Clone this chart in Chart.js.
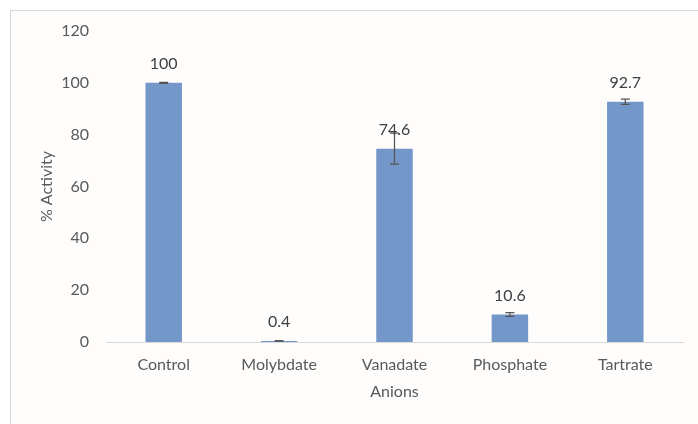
<!DOCTYPE html>
<html>
<head>
<meta charset="utf-8">
<script src="https://cdn.jsdelivr.net/npm/chart.js@4.4.0/dist/chart.umd.min.js"></script>
<style>
  body { margin: 0; background: #ffffff; }
  #frame {
    position: absolute; left: 10px; top: 10px; width: 700px; height: 430px;
    border-left: 1px solid #dcd8d5; border-top: 1px solid #dcd8d5;
    background: #fefdfc;
  }
  #wrap { position: absolute; left: 0; top: 0; width: 698px; height: 424px; }
</style>
</head>
<body>
<div id="frame"></div>
<div id="wrap"><canvas id="myChart" width="698" height="424"></canvas></div>
<script>
const categories = ['Control', 'Molybdate', 'Vanadate', 'Phosphate', 'Tartrate'];
const activity = [100, 0.4, 74.6, 10.6, 92.7];
const errors = [0.2, 0.1, 6.0, 0.7, 1.0];
const yTicks = [0, 20, 40, 60, 80, 100, 120];

const fontFamily = 'Lato, "Open Sans", sans-serif';

// error bars + value labels, drawn through the chart's own scales
const errorBarPlugin = {
    id: 'errorBars',
    afterDatasetsDraw(chart) {
        const ctx = chart.ctx;
        const x = chart.scales.x;
        const y = chart.scales.y;
        ctx.save();
        ctx.strokeStyle = '#555555';
        ctx.lineWidth = 1.25;
        for (let i = 0; i < activity.length; i++) {
            const cx = x.getPixelForValue(i);
            const top = y.getPixelForValue(activity[i] + errors[i]);
            const bot = y.getPixelForValue(activity[i] - errors[i]);
            ctx.beginPath();
            ctx.moveTo(cx, top);
            ctx.lineTo(cx, bot);
            ctx.moveTo(cx - 4.5, top);
            ctx.lineTo(cx + 4.5, top);
            ctx.moveTo(cx - 4.5, bot);
            ctx.lineTo(cx + 4.5, bot);
            ctx.stroke();
        }
        ctx.fillStyle = '#404040';
        ctx.font = '16px ' + fontFamily;
        ctx.textAlign = 'center';
        ctx.textBaseline = 'middle';
        for (let i = 0; i < activity.length; i++) {
            const cx = x.getPixelForValue(i);
            const barTop = y.getPixelForValue(activity[i]);
            ctx.fillText(String(activity[i]), cx, barTop - 19);
        }
        ctx.restore();
    }
};

const data = {
    labels: categories,
    datasets: [{
        data: activity,
        backgroundColor: '#7397c9',
        barPercentage: 0.316,
        categoryPercentage: 1,
    }]
};

const config = {
    type: 'bar',
    data: data,
    options: {
        responsive: false,
        animation: false,
        layout: { padding: { left: 25, right: 15, top: 31, bottom: 19 } },
        plugins: {
            legend: { display: false },
            tooltip: { enabled: false },
        },
        scales: {
            x: {
                afterFit: scale => { scale.height = 424 - 19 - 342; },
                grid: { display: false, drawTicks: false },
                border: { display: true, color: '#d9d9d9', width: 1 },
                ticks: { color: '#595959', padding: 13, font: { family: fontFamily, size: 16 } },
                title: {
                    display: true, text: 'Anions', color: '#595959',
                    padding: { top: 10, bottom: 4 },
                    font: { family: fontFamily, size: 16 }
                }
            },
            y: {
                min: 0,
                max: 120,
                afterBuildTicks: scale => { scale.ticks = yTicks.map(v => ({ value: v })); },
                afterFit: scale => { scale.width = 106 - 25; },
                grid: { display: false, drawTicks: false },
                border: { display: false },
                ticks: { color: '#595959', padding: 17, font: { family: fontFamily, size: 16 } },
                title: {
                    display: true, text: '% Activity', color: '#595959',
                    padding: { top: 12, bottom: 4 },
                    font: { family: fontFamily, size: 16 }
                }
            }
        }
    },
    plugins: [errorBarPlugin]
};

const myChart = new Chart(document.getElementById('myChart'), config);
</script>
</body>
</html>
